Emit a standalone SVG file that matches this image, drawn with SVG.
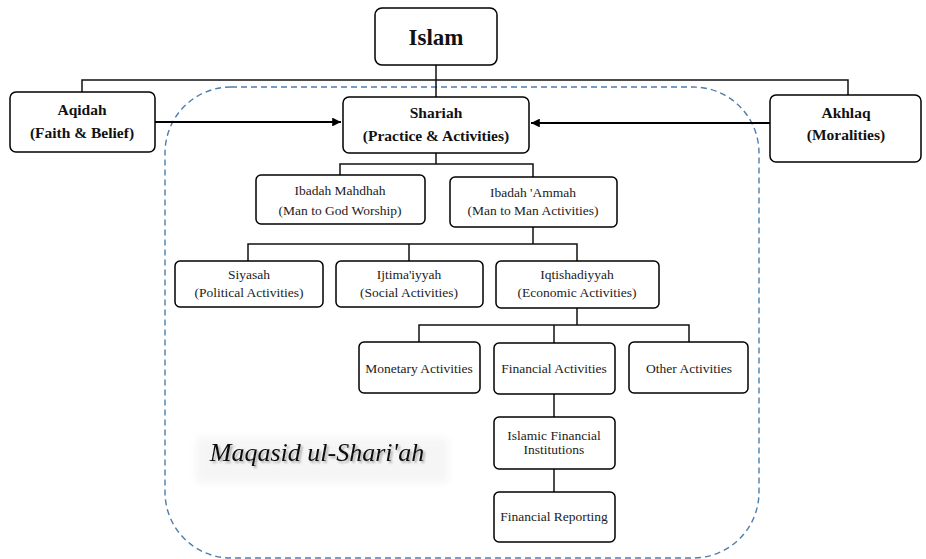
<svg xmlns="http://www.w3.org/2000/svg" width="926" height="559" viewBox="0 0 926 559">
<style>
.box{fill:#fff;stroke:#000;stroke-width:1.5}
.t{font-family:"Liberation Serif","Times New Roman","DejaVu Serif",serif;font-size:13.5px;fill:#222;text-anchor:middle}
.b{font-family:"Liberation Serif","Times New Roman","DejaVu Serif",serif;font-weight:bold;font-size:15.5px;fill:#111;text-anchor:middle}
.m{font-family:"Liberation Serif","Times New Roman","DejaVu Serif",serif;font-style:italic;font-size:26px;fill:#111;text-anchor:middle}
.c{fill:none;stroke:#111;stroke-width:1.5}
.a{fill:none;stroke:#000;stroke-width:2.2}
</style>
<defs>
<marker id="ah" viewBox="0 0 10 10" refX="10" refY="5" markerWidth="4" markerHeight="4" orient="auto" markerUnits="strokeWidth">
<path d="M0,0 L10,5 L0,10 z" fill="#000"/>
</marker>
<filter id="sh" x="-10%" y="-30%" width="120%" height="160%">
<feGaussianBlur in="SourceAlpha" stdDeviation="1.2"/>
<feOffset dx="1.5" dy="1.5" result="o"/>
<feComponentTransfer><feFuncA type="linear" slope="0.3"/></feComponentTransfer>
<feMerge><feMergeNode/><feMergeNode in="SourceGraphic"/></feMerge>
</filter>
<filter id="soft" x="-10%" y="-30%" width="120%" height="160%">
<feGaussianBlur stdDeviation="4"/>
</filter>
</defs>
<rect width="926" height="559" fill="#fff"/>

<g id="boundary">
<rect x="165" y="87" width="594" height="471" rx="66" ry="66" fill="none" stroke="#4f7eab" stroke-width="1.4" stroke-dasharray="6,4"/>
</g>

<g id="maqasid">
<rect x="196" y="438" width="252" height="45" fill="#f5f5f5" filter="url(#soft)"/>
<text class="m" x="317" y="461" filter="url(#sh)">Maqasid ul-Shari'ah</text>
</g>

<g id="connectors">
<path class="c" d="M436,65 V97 M82,92 V80 H848 V95"/>
<path class="a" d="M155,122 H341" marker-end="url(#ah)"/>
<path class="a" d="M770,123 H531" marker-end="url(#ah)"/>
<path class="c" d="M436,153 V164 M340,175 V164 H533 V177"/>
<path class="c" d="M533,227 V244 M248,261 V244 H577 V261 M409,244 V261"/>
<path class="c" d="M577,308 V325 M419,342 V325 H689 V342 M554,325 V343"/>
<path class="c" d="M554,394 V417 M554,469 V492"/>
</g>

<g id="islam">
<rect class="box" x="375" y="8" width="122" height="57" rx="7"/>
<text class="b" x="436" y="45" style="font-size:23px">Islam</text>
</g>
<g id="aqidah">
<rect class="box" x="10" y="92" width="145" height="60" rx="6"/>
<text class="b" x="82" y="115">Aqidah</text>
<text class="b" x="82" y="138">(Faith &amp; Belief)</text>
</g>
<g id="shariah">
<rect class="box" x="343" y="97" width="186" height="56" rx="6"/>
<text class="b" x="436" y="118">Shariah</text>
<text class="b" x="436" y="141">(Practice &amp; Activities)</text>
</g>
<g id="akhlaq">
<rect class="box" x="770" y="95" width="151" height="67" rx="6"/>
<text class="b" x="846" y="118">Akhlaq</text>
<text class="b" x="846" y="140">(Moralities)</text>
</g>

<g id="ibadah-mahdhah">
<rect class="box" x="256" y="175" width="169" height="49" rx="5"/>
<text class="t" x="340" y="195">Ibadah Mahdhah</text>
<text class="t" x="340" y="215">(Man to God Worship)</text>
</g>
<g id="ibadah-ammah">
<rect class="box" x="450" y="177" width="167" height="50" rx="5"/>
<text class="t" x="533" y="197">Ibadah 'Ammah</text>
<text class="t" x="533" y="215">(Man to Man Activities)</text>
</g>

<g id="siyasah">
<rect class="box" x="175" y="261" width="148" height="46" rx="5"/>
<text class="t" x="249" y="279">Siyasah</text>
<text class="t" x="249" y="297">(Political Activities)</text>
</g>
<g id="ijtimaiyyah">
<rect class="box" x="336" y="261" width="147" height="46" rx="5"/>
<text class="t" x="409" y="279">Ijtima'iyyah</text>
<text class="t" x="409" y="297">(Social Activities)</text>
</g>
<g id="iqtishadiyyah">
<rect class="box" x="496" y="261" width="163" height="47" rx="5"/>
<text class="t" x="577" y="279">Iqtishadiyyah</text>
<text class="t" x="577" y="297">(Economic Activities)</text>
</g>

<g id="monetary">
<rect class="box" x="359" y="342" width="121" height="51" rx="5"/>
<text class="t" x="419" y="373">Monetary Activities</text>
</g>
<g id="financial">
<rect class="box" x="494" y="343" width="121" height="51" rx="5"/>
<text class="t" x="554" y="373">Financial Activities</text>
</g>
<g id="other">
<rect class="box" x="629" y="342" width="119" height="51" rx="5"/>
<text class="t" x="689" y="373">Other Activities</text>
</g>
<g id="ifi">
<rect class="box" x="494" y="417" width="121" height="52" rx="5"/>
<text class="t" x="554" y="440">Islamic Financial</text>
<text class="t" x="554" y="454">Institutions</text>
</g>
<g id="reporting">
<rect class="box" x="494" y="492" width="121" height="50" rx="5"/>
<text class="t" x="554" y="521">Financial Reporting</text>
</g>
</svg>
